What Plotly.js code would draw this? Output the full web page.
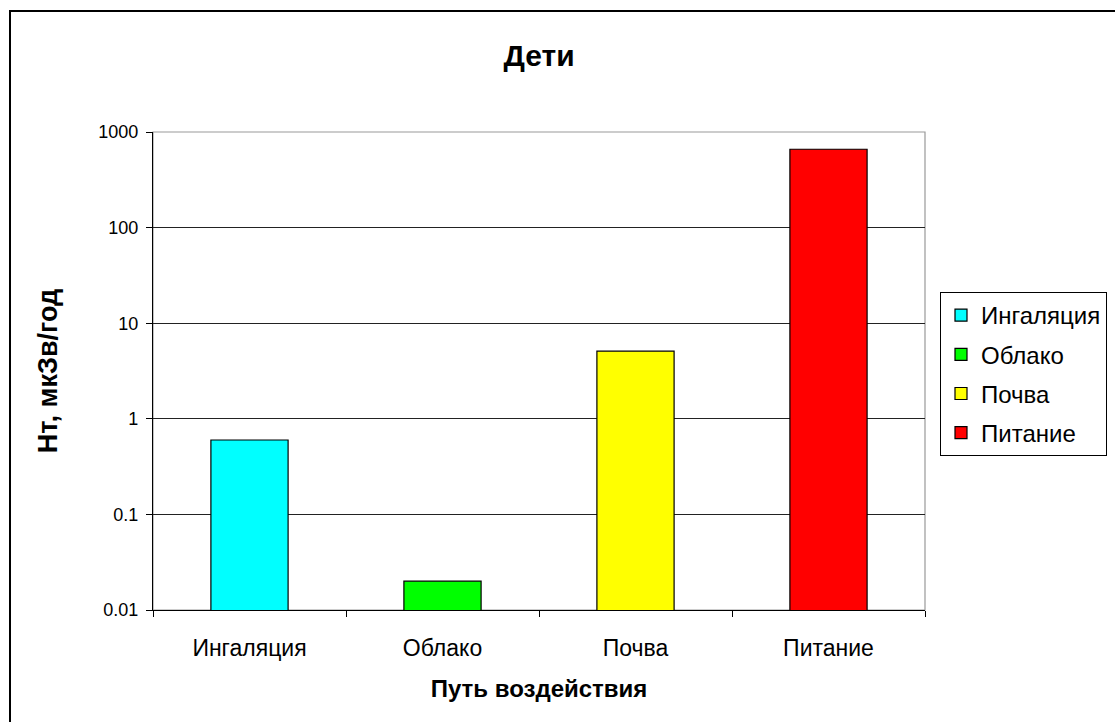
<!DOCTYPE html>
<html>
<head>
<meta charset="utf-8">
<script src="https://cdn.plot.ly/plotly-3.0.1.min.js"></script>
<style>html,body{margin:0;padding:0;background:#fff;}#chart{width:1115px;height:722px;}</style>
</head>
<body>
<div id="chart"></div>
<script>
var categories = ["Ингаляция", "Облако", "Почва", "Питание"];
var values = [0.6, 0.02, 5.1, 660];
var colors = ["#00FFFF", "#00FF00", "#FFFF00", "#FF0000"];
var yTickVals = [0.01, 0.1, 1, 10, 100, 1000];
var yTickText = ["0.01", "0.1", "1", "10", "100", "1000"];

var traces = categories.map(function (c, i) {
  return {
    type: "bar",
    name: c,
    legendgroup: "g" + i,
    x: [c],
    y: [values[i]],
    width: 0.4,
    marker: { color: colors[i], line: { color: "#000", width: 1.2 } },
    hoverinfo: "x+y"
  };
});

var L = 153, R = 925, T = 132, B = 610, W = 1115, H = 722;
var pw = R - L, ph = B - T;

var layout = {
  width: W, height: H,
  margin: { l: L, r: W - R, t: T, b: H - B, pad: 0, autoexpand: false },
  paper_bgcolor: "#fff", plot_bgcolor: "#fff",
  font: { family: "Liberation Sans, Arial, sans-serif", color: "#000" },
  barmode: "overlay",
  title: { text: "<b>Дети</b>", font: { size: 30, color: "#000" }, x: 0.5, xanchor: "center", y: 1 - 55 / H, yanchor: "middle", xref: "paper" },
  xaxis: {
    categoryorder: "array", categoryarray: categories,
    showline: true, linecolor: "#000", linewidth: 1.2,
    ticks: "outside", tickson: "boundaries", ticklen: 6, tickcolor: "#000",
    tickfont: { size: 23, color: "#000" },
    ticklabelstandoff: 17,
    showgrid: false, zeroline: false, fixedrange: true, automargin: false,
    title: { text: "<b>Путь воздействия</b>", font: { size: 24, color: "#000" }, standoff: 20 }
  },
  yaxis: {
    type: "log", range: [-2, 3],
    tickvals: yTickVals, ticktext: yTickText,
    showline: true, linecolor: "#000", linewidth: 1.2,
    ticks: "outside", ticklen: 6, tickcolor: "#000",
    tickfont: { size: 18, color: "#000" },
    ticklabelstandoff: 4,
    showgrid: true, gridcolor: "#222", gridwidth: 1.3,
    zeroline: false, fixedrange: true, automargin: false,
    title: { text: "<b>Нт, мкЗв/год</b>", font: { size: 27, color: "#000" }, standoff: 32 }
  },
  legend: {
    x: (940 - L) / pw, xanchor: "left",
    y: (B - 292) / ph, yanchor: "top",
    bgcolor: "#fff", bordercolor: "#000", borderwidth: 1,
    font: { size: 24, color: "#000" },
    traceorder: "grouped", tracegroupgap: 5, itemwidth: 30
  },
  showlegend: true,
  shapes: [
    { type: "rect", xref: "paper", yref: "paper", x0: 0, x1: 1, y0: 0, y1: 1,
      line: { color: "#999", width: 1.2 }, fillcolor: "rgba(0,0,0,0)", layer: "below" },
    { type: "rect", xref: "paper", yref: "paper",
      x0: (10 - L) / pw, x1: (W + 20 - L) / pw,
      y0: (B - (H + 20)) / ph, y1: (B - 11) / ph,
      line: { color: "#000", width: 2 }, fillcolor: "rgba(0,0,0,0)" }
  ]
};

Plotly.newPlot("chart", traces, layout, { displayModeBar: false, staticPlot: true });
</script>
</body>
</html>
